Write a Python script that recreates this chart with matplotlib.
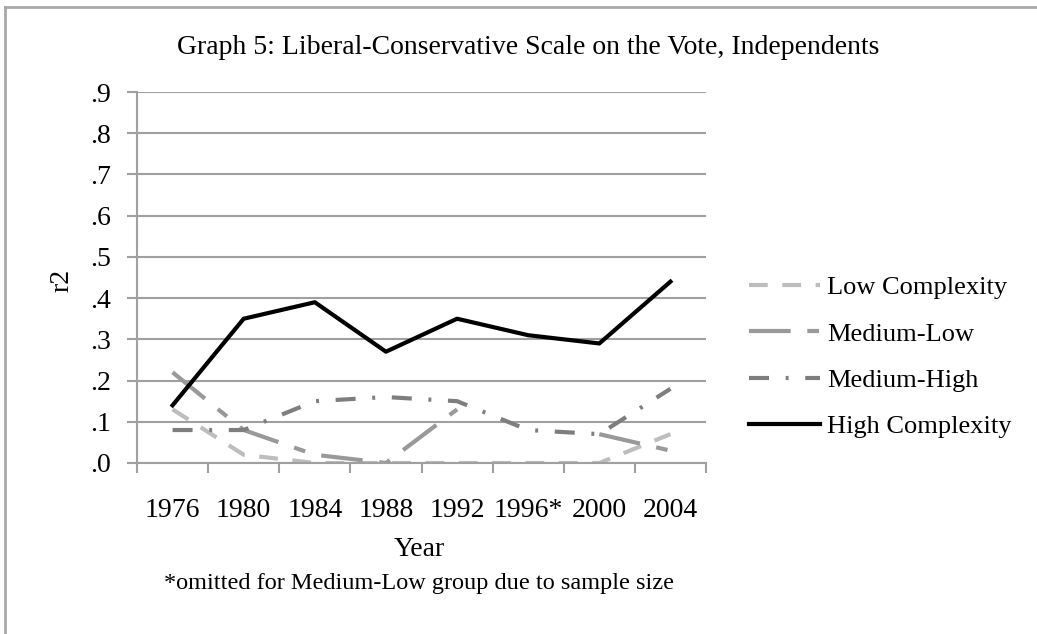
import matplotlib
matplotlib.use("Agg")
import matplotlib.pyplot as plt
from matplotlib.lines import Line2D
import numpy as np

years = ["1976", "1980", "1984", "1988", "1992", "1996*", "2000", "2004"]
low_complexity = [0.13, 0.02, 0.00, 0.00, 0.00, 0.00, 0.00, 0.07]
medium_low = [0.22, 0.08, 0.02, 0.00, 0.13, np.nan, 0.07, 0.03]
medium_high = [0.08, 0.08, 0.15, 0.16, 0.15, 0.08, 0.07, 0.18]
high_complexity = [0.14, 0.35, 0.39, 0.27, 0.35, 0.31, 0.29, 0.44]
y_ticks = [0.0, 0.1, 0.2, 0.3, 0.4, 0.5, 0.6, 0.7, 0.8, 0.9]
y_labels = [".0", ".1", ".2", ".3", ".4", ".5", ".6", ".7", ".8", ".9"]

plt.rcParams["font.family"] = "Liberation Serif"

fig = plt.figure(figsize=(10.37, 6.34), dpi=100)
ax = fig.add_axes([137 / 1037, 1 - 463 / 634, (706 - 137) / 1037, (463 - 92) / 634])

x = np.arange(len(years))
ax.plot(x, low_complexity, color="#bdbdbd", lw=3, dashes=(4.5, 3.5), label="Low Complexity")
ax.plot(x, medium_low, color="#999999", lw=3, dashes=(10, 4, 2.8, 4), label="Medium-Low")
ax.plot(x, medium_high, color="#7e7e7e", lw=3, dashes=(4.8, 4, 0.7, 4), label="Medium-High")
ax.plot(x, high_complexity, color="black", lw=3, label="High Complexity")

ax.set_xlim(-0.5, len(years) - 0.5)
ax.set_ylim(0, 0.9)
ax.set_yticks(y_ticks)
ax.set_yticklabels(y_labels)
ax.set_xticks(x)
ax.set_xticklabels(years)
ax.set_xticks(np.arange(-0.5, len(years), 1), minor=True)
ax.tick_params(axis="x", which="major", length=0, pad=25, labelsize=20)
ax.tick_params(axis="x", which="minor", length=7, color="#a0a0a0", width=1.5)
ax.tick_params(axis="y", length=7, color="#a0a0a0", width=1.5, pad=12, labelsize=20)
ax.grid(axis="y", color="#a0a0a0", lw=1.5)
ax.set_axisbelow(True)
for side in ["top", "right"]:
    ax.spines[side].set_visible(False)
for side in ["left", "bottom"]:
    ax.spines[side].set_color("#a0a0a0")
    ax.spines[side].set_linewidth(1.5)

fig.text(528 / 1037, 1 - 47 / 634, "Graph 5: Liberal-Conservative Scale on the Vote, Independents",
         ha="center", va="center", fontsize=20)
fig.text(62 / 1037, 1 - 280 / 634, "r2", rotation=90, ha="center", va="center", fontsize=20)
fig.text(419 / 1037, 1 - 550 / 634, "Year", ha="center", va="center", fontsize=20)
fig.text(419 / 1037, 1 - 584 / 634, "*omitted for Medium-Low group due to sample size",
         ha="center", va="center", fontsize=17.5)

ax.legend(loc="center left", bbox_to_anchor=(725 / 1037, 1 - 357 / 634), bbox_transform=fig.transFigure,
          frameon=False, fontsize=19, handlelength=2.7, handletextpad=0.27, labelspacing=0.87)

# outer frame, only top and left visible in the crop
fig.add_artist(Line2D([5 / 1037, 1], [1 - 7 / 634, 1 - 7 / 634], color="#a8a8a8", lw=2))
fig.add_artist(Line2D([5 / 1037, 5 / 1037], [0, 1 - 7 / 634], color="#a8a8a8", lw=2))

fig.savefig("out.png", dpi=100)
